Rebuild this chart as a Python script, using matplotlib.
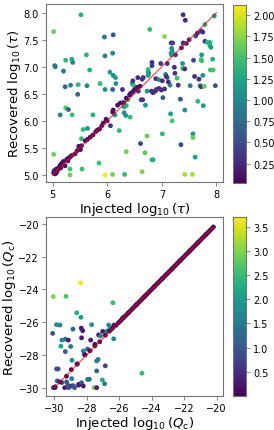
import matplotlib
matplotlib.use("Agg")
import matplotlib.pyplot as plt
import numpy as np

# ---------------- top panel: tau ----------------
inj_tau = [5.02, 5.52, 6.11, 5.95, 6.78, 7.05, 7.39, 7.43, 7.96, 7.79, 7.72, 7.75, 7.17, 7.20, 7.39,
           7.62, 7.79, 7.83, 7.88, 7.88, 7.90, 7.18, 7.19, 7.17, 7.18, 7.36, 5.62, 6.10, 5.96, 7.58,
           7.72, 7.73, 7.73, 7.93, 5.04, 5.05, 5.24, 5.35, 5.37, 5.20, 5.68, 6.05, 6.11, 6.15, 6.75,
           6.75, 6.76, 6.75, 6.82, 6.82, 6.98, 7.23, 7.38, 7.38, 7.42, 7.24, 7.89, 7.94, 7.60, 7.68,
           7.75, 7.52, 7.70, 7.72, 7.78, 7.98, 5.23, 5.33, 5.47, 5.63, 5.87, 5.96, 6.10, 6.16, 6.28,
           6.46, 6.48, 6.56, 6.64, 6.66, 6.47, 6.57, 6.62, 6.65, 6.73, 6.81, 6.84, 6.89, 6.95, 7.01,
           7.07, 7.10, 7.08, 6.90, 6.95, 6.99, 7.05, 6.88, 7.02, 7.15, 7.12, 7.28, 7.30, 5.46, 5.24,
           5.29, 5.14, 5.36, 5.74, 6.14, 6.31, 6.35, 6.38, 6.31, 6.34, 6.42, 6.70, 7.34, 7.42, 7.16,
           7.66, 7.76, 7.19, 5.56, 5.64, 6.06, 6.22, 5.53, 5.54, 5.32, 5.32, 5.85, 5.96, 6.10, 6.32,
           6.64, 6.35, 6.69, 6.73, 6.82, 6.84, 6.61, 7.01, 7.35, 7.57, 7.57, 7.61, 7.42, 7.56, 5.02,
           # near-diagonal recoveries
           5.02, 5.03, 5.05, 5.07, 5.09, 5.12, 5.14, 5.17, 5.20, 5.23, 5.26, 5.29, 5.32, 5.35, 5.41,
           5.48, 5.51, 5.53, 5.60, 5.64, 5.69, 5.74, 5.79, 5.82, 5.86, 5.90, 5.93, 5.98, 6.00, 6.10,
           6.11, 6.19, 6.24, 6.30, 6.35, 6.41, 6.43, 6.47, 6.50, 5.04, 5.06, 5.08, 5.10, 5.15, 5.28,
           5.45, 6.55, 6.60, 7.10, 7.25, 7.45, 7.50, 7.65]
rec_tau = [7.65, 7.96, 7.59, 7.55, 7.69, 7.56, 7.96, 7.86, 7.94, 7.78, 7.66, 7.64, 7.44, 7.44, 7.44,
           7.57, 7.47, 7.45, 7.45, 7.39, 7.36, 7.34, 7.29, 7.25, 7.22, 7.35, 7.22, 7.25, 7.20, 7.12,
           7.13, 7.22, 7.11, 7.14, 7.02, 7.00, 7.12, 7.14, 7.08, 6.92, 6.94, 6.90, 6.84, 6.80, 6.95,
           6.91, 6.87, 6.84, 7.08, 7.02, 7.06, 6.99, 7.06, 6.97, 6.96, 6.88, 6.94, 6.94, 6.82, 6.77,
           6.84, 6.65, 6.65, 6.63, 6.64, 6.65, 6.63, 6.66, 6.67, 6.65, 6.69, 6.58, 6.58, 6.69, 6.58,
           6.69, 6.66, 6.80, 6.77, 6.80, 6.74, 6.55, 6.39, 6.39, 6.55, 6.55, 6.52, 6.78, 6.76, 6.74,
           6.86, 6.80, 6.82, 6.58, 6.60, 6.57, 6.59, 6.55, 6.43, 6.66, 6.72, 6.79, 6.66, 6.49, 6.24,
           6.21, 6.11, 6.11, 6.11, 6.11, 6.26, 6.28, 6.39, 6.15, 6.10, 6.07, 6.29, 6.40, 6.20, 6.13,
           6.36, 6.28, 6.00, 5.84, 5.86, 5.91, 5.82, 5.67, 5.11, 5.11, 5.00, 5.22, 5.00, 5.01, 5.01,
           5.06, 5.43, 5.41, 5.72, 5.28, 5.28, 5.58, 5.76, 5.56, 5.76, 5.69, 5.33, 5.01, 5.01, 5.38,
           5.04, 5.08, 5.05, 5.11, 5.09, 5.14, 5.18, 5.22, 5.25, 5.17, 5.29, 5.31, 5.33, 5.36, 5.39,
           5.53, 5.47, 5.54, 5.63, 5.66, 5.70, 5.74, 5.80, 5.83, 5.85, 5.91, 5.96, 6.03, 6.00, 6.16,
           6.20, 6.29, 6.33, 6.34, 6.42, 6.48, 6.51, 6.54, 6.58, 5.02, 5.03, 5.06, 5.12, 5.13, 5.26,
           5.45, 6.62, 6.64, 7.06, 7.22, 7.43, 7.50, 7.62]
c_tau = [1.65, 1.35, 0.55, 0.85, 1.45, 1.75, 0.30, 0.25, 1.10, 1.30, 0.35, 0.30, 0.35, 0.40, 0.30,
         0.45, 0.30, 1.40, 1.30, 1.35, 1.20, 1.05, 1.10, 1.10, 1.15, 0.25, 1.35, 1.05, 0.85, 0.45,
         1.40, 1.10, 1.50, 1.35, 0.80, 0.90, 1.40, 1.35, 1.00, 0.85, 1.35, 1.20, 1.05, 1.20, 1.45,
         1.30, 1.10, 1.20, 0.30, 0.35, 0.35, 0.30, 1.10, 1.50, 0.30, 0.35, 1.45, 1.50, 0.30, 0.30,
         1.05, 0.95, 1.00, 0.30, 1.65, 0.55, 0.70, 0.95, 1.40, 1.00, 1.40, 1.05, 0.65, 1.10, 0.30,
         1.15, 1.40, 0.25, 0.30, 0.30, 0.30, 0.30, 0.55, 0.30, 1.10, 0.30, 0.30, 0.30, 1.10, 0.30,
         1.10, 1.00, 0.30, 0.35, 0.30, 0.30, 0.30, 0.30, 0.65, 1.00, 0.30, 1.45, 0.30, 0.70, 1.55,
         0.65, 1.00, 1.45, 1.35, 1.05, 1.10, 1.35, 1.45, 1.05, 1.10, 1.45, 1.15, 0.55, 1.05, 1.20,
         1.40, 1.20, 1.55, 1.40, 1.15, 0.30, 1.40, 1.40, 1.45, 1.50, 1.65, 1.45, 2.10, 1.70, 1.40,
         1.70, 1.70, 1.60, 1.65, 1.35, 1.35, 0.45, 1.40, 0.50, 1.10, 1.65, 1.20, 1.85, 1.85, 1.65,
         0.10, 0.15, 0.10, 0.12, 0.10, 0.15, 0.10, 0.12, 0.10, 0.15, 0.10, 0.12, 0.10, 0.15, 0.10,
         0.12, 0.10, 0.15, 0.10, 0.12, 0.10, 0.15, 0.10, 0.12, 0.10, 0.15, 0.10, 0.12, 0.10, 0.15,
         0.10, 0.12, 0.10, 0.15, 0.10, 0.12, 0.10, 0.15, 0.10, 0.10, 0.12, 0.10, 0.15, 0.10, 0.12,
         0.10, 0.15, 0.12, 0.30, 0.35, 0.30, 0.30, 0.30]

# ---------------- bottom panel: Q_c ----------------
inj_q = [-28.38, -30.06, -29.28, -26.39, -28.62, -28.36, -25.79, -30.10, -29.86, -29.65, -28.85, -28.34,
         -27.70, -26.65, -26.57, -26.75, -26.32, -26.47, -29.53, -29.32, -29.14, -29.59, -29.32, -28.99,
         -28.32, -28.25, -27.76, -27.27, -27.02, -27.15, -26.34, -27.50, -28.21, -27.95, -28.15, -28.91,
         -28.58, -27.39, -27.30, -26.86, -27.39, -24.60, -29.86, -29.76, -28.93, -27.84, -27.04, -26.90,
         -29.82, -29.53, -29.24, -29.16, -28.95, -28.83, -28.50, -28.32, -28.21, -27.95, -27.54, -27.39,
         -30.06, -29.96, -29.36, -29.12, -28.75, -28.50,
         # near-diagonal
         -29.95, -29.65, -29.25, -28.95, -28.60, -28.10, -27.80, -27.50, -27.20, -26.85, -26.60, -26.40,
         -26.20, -26.05, -25.95, -25.85, -25.75, -25.65, -25.55, -25.45, -25.30, -25.20, -25.10, -25.00,
         -24.90, -24.80, -24.70, -24.60, -24.50, -24.40, -24.30, -24.20, -24.10, -24.00, -23.90, -23.80,
         -23.70, -23.60, -23.50, -23.40, -23.30, -23.20, -23.10, -23.00, -22.90, -22.80, -22.70, -22.60,
         -22.50, -22.40, -22.30, -22.20, -22.10, -22.00, -21.90, -21.80, -21.70, -21.60, -21.50, -21.40,
         -21.30, -21.20, -21.10, -21.00, -20.90, -20.80, -20.70, -20.60, -20.50, -20.40, -20.30, -20.20,
         -25.42, -24.95, -24.45, -23.85, -23.35, -22.75, -22.25, -21.65, -21.15, -20.65]
rec_q = [-23.61, -24.45, -24.43, -24.82, -25.43, -25.71, -25.73, -26.69, -26.16, -26.18, -26.43, -26.37,
         -26.16, -26.18, -26.39, -26.55, -26.18, -26.45, -27.10, -27.04, -27.10, -27.47, -27.80, -27.49,
         -26.96, -26.53, -27.10, -26.78, -26.57, -26.85, -27.02, -27.35, -27.76, -27.65, -27.97, -28.33,
         -28.57, -28.37, -28.28, -28.67, -28.98, -29.12, -28.86, -28.86, -29.45, -29.49, -29.53, -29.76,
         -29.59, -29.69, -29.65, -29.85, -29.90, -29.88, -29.80, -29.70, -29.90, -29.50, -30.00, -30.00,
         -30.00, -30.00, -30.00, -30.00, -30.00, -29.85,
         -29.95, -29.65, -29.30, -28.90, -28.55, -28.00, -27.75, -27.45, -27.20, -26.80, -26.55, -26.35,
         -26.20, -26.05, -25.95, -25.85, -25.75, -25.65, -25.55, -25.45, -25.30, -25.20, -25.10, -25.00,
         -24.90, -24.80, -24.70, -24.60, -24.50, -24.40, -24.30, -24.20, -24.10, -24.00, -23.90, -23.80,
         -23.70, -23.60, -23.50, -23.40, -23.30, -23.20, -23.10, -23.00, -22.90, -22.80, -22.70, -22.60,
         -22.50, -22.40, -22.30, -22.20, -22.10, -22.00, -21.90, -21.80, -21.70, -21.60, -21.50, -21.40,
         -21.30, -21.20, -21.10, -21.00, -20.90, -20.80, -20.70, -20.60, -20.50, -20.40, -20.30, -20.20,
         -25.42, -24.95, -24.45, -23.85, -23.35, -22.75, -22.25, -21.65, -21.15, -20.65]
c_q = [3.65, 3.00, 2.70, 2.50, 2.30, 2.10, 2.35, 1.00, 1.70, 1.60, 1.20, 0.30, 1.80, 1.70, 1.90, 1.80,
       0.30, 1.90, 1.70, 1.50, 0.30, 2.20, 1.00, 1.50, 0.30, 0.30, 0.30, 0.30, 0.30, 1.60, 1.70, 0.30,
       1.70, 1.00, 1.00, 1.80, 1.00, 1.50, 1.60, 0.70, 1.20, 2.40, 0.90, 0.90, 1.60, 1.40, 2.20, 1.50,
       1.00, 1.00, 1.00, 0.90, 0.30, 1.00, 0.30, 1.00, 0.30, 1.40, 2.90, 0.30, 0.80, 0.30, 0.30, 0.90,
       1.00, 0.30,
       0.10, 0.10, 0.10, 0.10, 0.10, 0.10, 0.10, 0.10, 0.10, 0.10, 0.10, 0.10, 0.10, 0.10, 0.10, 0.10,
       0.10, 0.10, 0.10, 0.10, 0.10, 0.10, 0.10, 0.10, 0.10, 0.10, 0.10, 0.10, 0.10, 0.10, 0.10, 0.10,
       0.10, 0.10, 0.10, 0.10, 0.10, 0.10, 0.10, 0.10, 0.10, 0.10, 0.10, 0.10, 0.10, 0.10, 0.10, 0.10,
       0.10, 0.10, 0.10, 0.10, 0.10, 0.10, 0.10, 0.10, 0.10, 0.10, 0.10, 0.10, 0.10, 0.10, 0.10, 0.10,
       0.10, 0.10, 0.10, 0.10, 0.10, 0.10, 0.10, 0.10, 0.10, 0.10, 0.10, 0.10, 0.10, 0.10, 0.10, 0.10,
       0.10, 0.10]

tau_line = [5.0, 8.0]
q_line = [-30.0, -20.2]

fig = plt.figure(figsize=(2.74, 4.31), dpi=100)
W, H = 274, 431

def box(l, t, r, b):
    return [l / W, 1 - b / H, (r - l) / W, (b - t) / H]

ax1 = fig.add_axes(box(46, 5, 223, 183))
cax1 = fig.add_axes(box(233, 6, 246, 184))
ax2 = fig.add_axes(box(46, 218, 223, 397))
cax2 = fig.add_axes(box(233, 218, 246, 397))

edge = '0.45'
for ax, cax in ((ax1, cax1), (ax2, cax2)):
    for s in ax.spines.values():
        s.set_edgecolor(edge)
    ax.tick_params(labelsize=7, length=3, width=0.6, color=edge, pad=2)
    cax.tick_params(labelsize=7, length=3, width=0.6, color=edge, pad=2)

sc1 = ax1.scatter(inj_tau, rec_tau, c=c_tau, cmap='viridis', s=12, linewidths=0,
                  vmin=0.02, vmax=2.12, zorder=2)
ax1.plot(tau_line, tau_line, color='red', lw=0.8, alpha=0.75, zorder=3)
ax1.set_xlim(4.88, 8.12)
ax1.set_ylim(4.87, 8.16)
ax1.set_xticks([5, 6, 7, 8])
ax1.set_yticks([5.0, 5.5, 6.0, 6.5, 7.0, 7.5, 8.0])
ax1.set_xlabel(r'Injected $\log_{10}(\tau)$', fontsize=9.5, labelpad=0.5)
ax1.set_ylabel(r'Recovered $\log_{10}(\tau)$', fontsize=9.5, labelpad=0.5)
cb1 = fig.colorbar(sc1, cax=cax1)
cb1.set_ticks([0.25, 0.5, 0.75, 1.0, 1.25, 1.5, 1.75, 2.0])
cb1.outline.set_edgecolor(edge)

sc2 = ax2.scatter(inj_q, rec_q, c=c_q, cmap='viridis', s=12, linewidths=0,
                  vmin=0.0, vmax=3.7, zorder=2)
ax2.plot(q_line, q_line, color='red', lw=0.8, alpha=0.75, zorder=3)
ax2.set_xlim(-30.51, -19.61)
ax2.set_ylim(-30.51, -19.59)
ax2.set_xticks([-30, -28, -26, -24, -22, -20])
ax2.set_yticks([-30, -28, -26, -24, -22, -20])
ax2.set_xlabel(r'Injected $\log_{10}(Q_\mathrm{c})$', fontsize=9.5, labelpad=0.5)
ax2.set_ylabel(r'Recovered $\log_{10}(Q_\mathrm{c})$', fontsize=9.5, labelpad=0.5)
cb2 = fig.colorbar(sc2, cax=cax2)
cb2.set_ticks([0.5, 1.0, 1.5, 2.0, 2.5, 3.0, 3.5])
cb2.outline.set_edgecolor(edge)

fig.savefig('out.png', dpi=100)
